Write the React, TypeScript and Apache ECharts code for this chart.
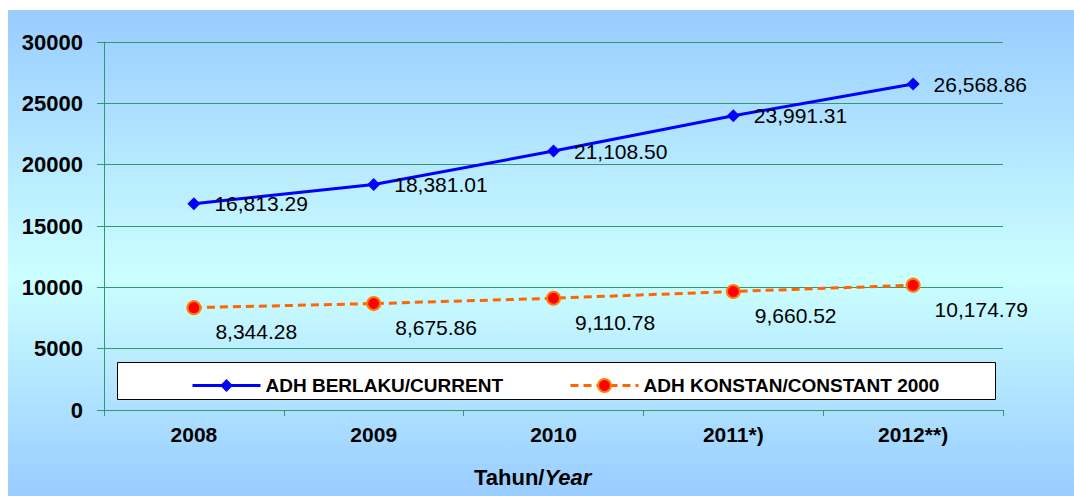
import React, { useEffect, useRef } from "react";
import * as echarts from "echarts";

const categories = ["2008", "2009", "2010", "2011*)", "2012**)"];
const currentValues = [16813.29, 18381.01, 21108.5, 23991.31, 26568.86];
const constantValues = [8344.28, 8675.86, 9110.78, 9660.52, 10174.79];
const seriesNames = ["ADH BERLAKU/CURRENT", "ADH KONSTAN/CONSTANT 2000"];
const yTicks = { min: 0, max: 30000, interval: 5000 };

const fmt = (v: number) =>
  v.toLocaleString("en-US", { minimumFractionDigits: 2, maximumFractionDigits: 2 });

export default function App() {
  const ref = useRef<HTMLDivElement>(null);
  useEffect(() => {
    document.body.style.margin = "0";
    const chart = echarts.init(ref.current!, null, { renderer: "svg" });
    const grid = "#33996a";
    const font = "Arial, 'Liberation Sans', sans-serif";
    chart.setOption({
      animation: false,
      backgroundColor: new echarts.graphic.LinearGradient(0, 0, 0, 1, [
        { offset: 0, color: "#99ccff" },
        { offset: 0.55, color: "#ccffff" },
        { offset: 1, color: "#99ccff" },
      ]),
      textStyle: { fontFamily: font },
      grid: { left: 96, right: 71, top: 32, bottom: 86 },
      xAxis: {
        type: "category",
        data: categories,
        boundaryGap: true,
        axisLine: { lineStyle: { color: grid, width: 1 } },
        axisTick: { show: true, length: 6, lineStyle: { color: grid } },
        axisLabel: { color: "#000", fontWeight: "bold", fontSize: 21, margin: 14 },
      },
      yAxis: {
        type: "value",
        min: yTicks.min,
        max: yTicks.max,
        interval: yTicks.interval,
        axisLine: { show: true, lineStyle: { color: grid, width: 1 } },
        axisTick: { show: true, length: 7, lineStyle: { color: grid } },
        splitLine: { show: true, lineStyle: { color: grid, width: 1 } },
        axisLabel: {
          color: "#000",
          fontWeight: "bold",
          fontSize: 22,
          margin: 21,
          formatter: (v: number) => String(v),
        },
      },
      legend: {
        left: 178,
        top: 361,
        itemWidth: 68,
        itemHeight: 16,
        itemGap: 66,
        lineStyle: { width: 3 },
        textStyle: { color: "#000", fontWeight: "bold", fontSize: 19 },
        data: seriesNames,
      },
      graphic: [
        {
          type: "rect",
          left: 109,
          top: 352,
          z: 0,
          shape: { width: 878, height: 37 },
          style: { fill: "#ffffff", stroke: "#000000", lineWidth: 1 },
        },
        {
          type: "text",
          left: 466,
          top: 456,
          style: {
            text: "{a|Tahun/}{b|Year}",
            rich: {
              a: { fontSize: 22, fontWeight: "bold", fill: "#000", fontFamily: font },
              b: { fontSize: 22, fontWeight: "bold", fontStyle: "italic", fill: "#000", fontFamily: font },
            },
          },
        },
      ],
      series: [
        {
          name: seriesNames[0],
          type: "line",
          data: currentValues,
          symbol: "diamond",
          symbolSize: 13,
          itemStyle: { color: "#0000ff" },
          lineStyle: { color: "#0000ff", width: 3 },
          label: {
            show: true,
            position: "right",
            distance: 14,
            color: "#000",
            fontSize: 21,
            formatter: (p: any) => fmt(p.value),
          },
          z: 5,
        },
        {
          name: seriesNames[1],
          type: "line",
          data: constantValues,
          symbol: "circle",
          symbolSize: 13,
          itemStyle: { color: "#ff0000", borderColor: "#ff8000", borderWidth: 2 },
          lineStyle: { color: "#ff6600", width: 3, type: [8, 5] },
          label: {
            show: true,
            position: "right",
            distance: 14,
            offset: [0, 24],
            color: "#000",
            fontSize: 21,
            formatter: (p: any) => fmt(p.value),
          },
          z: 5,
        },
      ],
    });
    return () => chart.dispose();
  }, []);
  return (
    <div
      ref={ref}
      style={{ position: "absolute", left: 8, top: 10, width: 1066, height: 486 }}
    />
  );
}
